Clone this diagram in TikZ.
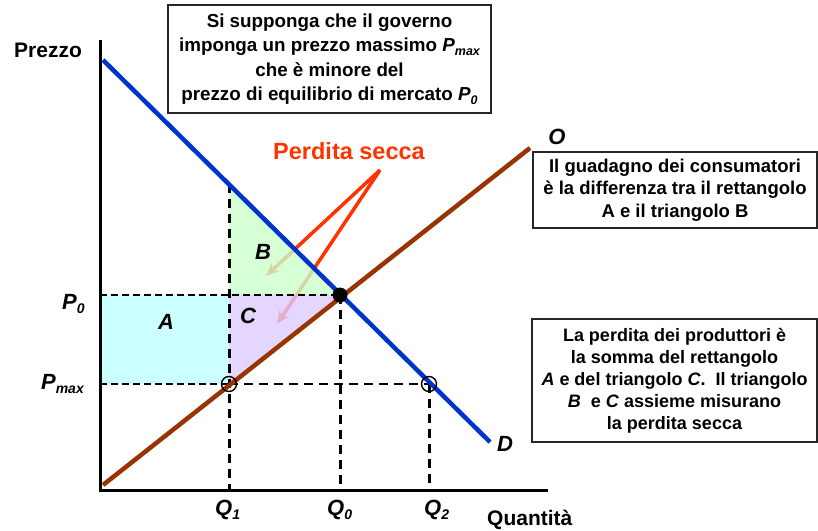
\documentclass[tikz,border=0pt]{standalone}
\usepackage{fontspec}
\setmainfont{Liberation Sans}
\usetikzlibrary{arrows.meta}
\definecolor{dblue}{RGB}{0,51,204}
\definecolor{sbrown}{RGB}{153,51,0}
\definecolor{pred}{RGB}{255,51,0}
\definecolor{acyan}{RGB}{204,255,255}
\definecolor{bgreen}{RGB}{204,255,204}
\definecolor{clav}{RGB}{221,204,255}
\newcommand{\sbx}[1]{\raisebox{-0.4ex}{\fontsize{14}{14}\selectfont\bfseries\itshape #1}}
\newcommand{\sbt}[1]{\raisebox{-0.35ex}{\fontsize{12.5}{12.5}\selectfont\bfseries\itshape #1}}
\begin{document}
\begin{tikzpicture}[x=1pt,y=-1pt,
  axisline/.style={line width=3pt,black},
  demline/.style={line width=4.5pt,dblue},
  supline/.style={line width=4.5pt,sbrown},
  thindash/.style={line width=1.5pt,dash pattern=on 7pt off 4pt},
  thickdash/.style={line width=3pt,dash pattern=on 9pt off 6pt},
  meddash/.style={line width=2.5pt,dash pattern=on 9pt off 6pt},
  redarrow/.style={line width=3.5pt,pred,-{Stealth[length=13pt,width=11pt]}},
  opencirc/.style={circle,draw=black,line width=1.4pt,minimum size=15pt,inner sep=0pt},
  eqdot/.style={circle,fill=black,minimum size=15pt,inner sep=0pt},
  txtbox/.style={draw=black!85,line width=1.5pt,align=center,inner sep=0pt,font=\fontsize{18.5}{22.5}\selectfont\bfseries},
  lbl/.style={inner sep=0pt,font=\fontsize{22}{22}\selectfont\bfseries\itshape},
  plain/.style={inner sep=0pt,font=\fontsize{21}{21}\selectfont\bfseries}
]
\useasboundingbox (0,0) rectangle (818,530);
% coordinates
\coordinate (orig) at (100,490);
\coordinate (ytop) at (100,40);
\coordinate (xend) at (548,490);
\coordinate (E) at (340,295);
\coordinate (Dstart) at (103,60);
\coordinate (Dend) at (490,442);
\coordinate (Sstart) at (103,485);
\coordinate (Send) at (530,148);
\coordinate (Q1top) at (229,184);
\coordinate (Q1P0) at (229,295);
\coordinate (Q1Pm) at (229,384);
\coordinate (Q1ax) at (229,490);
\coordinate (P0ax) at (100,295);
\coordinate (Pmax) at (100,384);
\coordinate (Q2Pm) at (429,384);
\coordinate (Q2ax) at (429,490);
\coordinate (Q0ax) at (340,490);
\coordinate (PS) at (380,170);
\coordinate (tipB) at (266,276);
\coordinate (tipC) at (277,324);
% rectangle A
\fill[acyan] (P0ax) rectangle (Q1Pm);
% red arrows (under triangles)
\draw[redarrow] (PS) -- (tipB);
\draw[redarrow] (PS) -- (tipC);
% triangles B and C
\fill[bgreen,fill opacity=0.8] (Q1top) -- (Q1P0) -- (E) -- cycle;
\fill[clav,fill opacity=0.8] (Q1P0) -- (E) -- (Q1Pm) -- cycle;
% dashed guides
\draw[thindash] (P0ax) -- (E);
\draw[thindash] (Pmax) -- (Q1Pm);
\draw[meddash] (Q1Pm) -- (Q2Pm);
\draw[thickdash] (Q1top) -- (Q1ax);
\draw[thickdash] (E) -- (Q0ax);
\draw[thickdash] (Q2Pm) -- (Q2ax);
% axes
\draw[axisline] (ytop) -- (orig) -- (xend);
% curves
\draw[demline] (Dstart) -- (Dend);
\draw[supline] (Sstart) -- (Send);
% points
\node[eqdot] (eq) at (E) {};
\node[opencirc] (c1) at (Q1Pm) {};
\node[opencirc] (c2) at (Q2Pm) {};
% labels
\node[plain] (prezzo) at (48,50) {Prezzo};
\node[plain,anchor=base west] (quant) at (487,525) {Quantità};
\node[lbl,anchor=base west] (p0) at (62,309) {P\sbx{0}};
\node[lbl,anchor=base east] (pmax) at (84,389) {P\sbx{max}};
\node[lbl,anchor=base west] (q1) at (215,515) {Q\sbx{1}};
\node[lbl,anchor=base west] (q0) at (327,515) {Q\sbx{0}};
\node[lbl,anchor=base west] (q2) at (424,515) {Q\sbx{2}};
\node[lbl] (dlab) at (505,444) {D};
\node[lbl] (olab) at (557,137) {O};
\node[lbl] (alab) at (166,322) {A};
\node[lbl] (blab) at (263,252) {B};
\node[lbl] (clab) at (248,316) {C};
\node[inner sep=0pt,text=pred,font=\fontsize{23.5}{23.5}\selectfont\bfseries] (ps) at (349,151) {Perdita secca};
% boxes
\node[txtbox,minimum width=323pt,minimum height=108pt,font=\fontsize{18.8}{24.5}\selectfont\bfseries] (topbox) at (329.5,59) {Si supponga che il governo\\imponga un prezzo massimo \textit{P}\sbt{max}\\che è minore del\\prezzo di equilibrio di mercato \textit{P}\sbt{0}};
\node[txtbox,minimum width=284pt,minimum height=76pt] (consbox) at (675,190) {Il guadagno dei consumatori\\è la differenza tra il rettangolo\\A e il triangolo B};
\node[txtbox,minimum width=285pt,minimum height=123pt,font=\fontsize{18}{22}\selectfont\bfseries] (prodbox) at (674.5,380.5) {La perdita dei produttori è\\la somma del rettangolo\\\textit{A} e del triangolo \textit{C}.\ \ Il triangolo\\\textit{B}\ \ e \textit{C} assieme misurano\\la perdita secca};
\end{tikzpicture}
\end{document}
